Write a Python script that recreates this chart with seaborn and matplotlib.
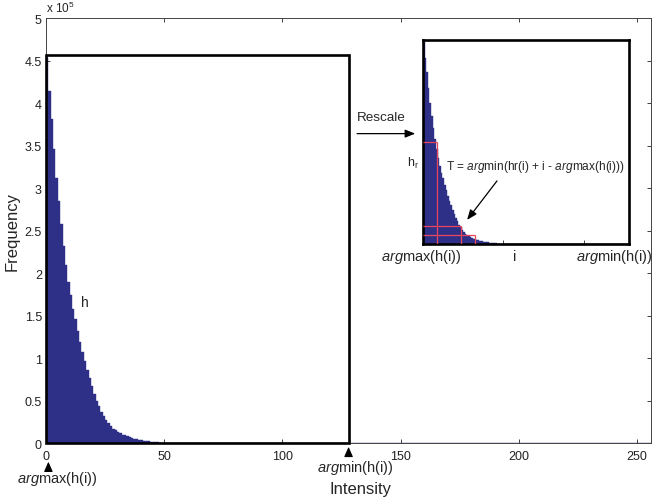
import numpy as np
import pandas as pd
import matplotlib
matplotlib.use("Agg")
import matplotlib.pyplot as plt
from matplotlib.patches import Rectangle
from matplotlib.ticker import FormatStrFormatter
import seaborn as sns

# =========================
# Data
# =========================
# frequency per intensity bin 0..47 (counts)
freq_head = [453000, 414000, 381000, 346000, 312000, 285000, 258000, 232000,
             210000, 190000, 174000, 158000, 146000, 132000, 119000, 107000,
             96000, 86000, 76000, 67000, 58000, 50000, 43000, 37000,
             32000, 27000, 23000, 20000, 17000, 15000, 13000, 11500,
             10000, 9000, 8000, 7000, 6000, 5300, 4600, 4000,
             3400, 2800, 2300, 1900, 1500, 1200, 900, 700]
# flat tail, bins 48..255
freq_tail = [600] * 16 + [500] * 64 + [450] * 128
freq = np.array(freq_head + freq_tail)
intensity = np.arange(len(freq))

argmax_i = 0
argmin_i = 128
box_top = 456500

# red threshold guides in the rescaled inset (x = intensity, y = count)
red_x = [8.7, 23.4, 32.3]
red_y = [227000, 41000, 20000]

SCALE = 1e5
BAR = "#2e3088"

df = pd.DataFrame({"intensity": intensity, "freq": freq / SCALE})
bin_edges = list(range(0, 257))

# =========================
# Style
# =========================
sns.set_theme(style="ticks")
plt.rcParams["font.family"] = ["Liberation Sans", "DejaVu Sans"]
plt.rcParams["mathtext.fontset"] = "custom"
plt.rcParams["mathtext.rm"] = "Liberation Sans"
plt.rcParams["mathtext.it"] = "Liberation Sans:italic"

fig = plt.figure(figsize=(6.52, 5.02), dpi=100)

# =========================
# Main histogram
# =========================
ax = fig.add_axes([0.0706, 0.1155, 0.928, 0.8466])
sns.histplot(data=df, x="intensity", weights="freq", bins=bin_edges,
             color=BAR, alpha=1, edgecolor=BAR, linewidth=0.3, ax=ax)
ax.set_xlim(0, 256)
ax.set_ylim(0, 5)
ax.set_xticks([0, 50, 100, 150, 200, 250])
ax.set_yticks(np.arange(0, 5.01, 0.5))
ax.yaxis.set_major_formatter(FormatStrFormatter("%g"))
ax.tick_params(direction="in", length=3, width=0.6, top=True, right=True,
               labelsize=9, colors="#222222", pad=5)
ax.tick_params(axis="y", pad=3)
for s in ax.spines.values():
    s.set_color("#444444")
    s.set_linewidth(0.7)

ax.set_xlabel("Intensity", fontsize=12)
ax.set_ylabel("Frequency", fontsize=12)
ax.xaxis.set_label_coords(0.519, -0.09)
ax.yaxis.set_label_coords(-0.043, 0.5)
ax.text(0, 1.008, r"x 10$^\mathregular{5}$", transform=ax.transAxes,
        fontsize=8.5, va="bottom", ha="left")

ax.add_patch(Rectangle((argmax_i, 0), argmin_i - argmax_i, box_top / SCALE,
                       fill=False, ec="black", lw=1.9, clip_on=False, zorder=5))
ax.text(16.5, 1.66, "h", fontsize=10, ha="center", va="center")

# arrows under the x axis
tr = ax.get_xaxis_transform()
head = dict(arrowstyle="-|>,head_length=0.5,head_width=0.22", color="black",
            lw=0.8, shrinkA=0, shrinkB=0)
ax.annotate("", xy=(1, -0.044), xytext=(1, -0.064), xycoords=tr,
            textcoords=tr, arrowprops=head, annotation_clip=False)
ax.annotate("", xy=(argmin_i, -0.009), xytext=(argmin_i, -0.03), xycoords=tr,
            textcoords=tr, arrowprops=head, annotation_clip=False)
ax.text(4.9, -0.083, r"$\mathit{arg}$max(h(i))", transform=tr, fontsize=10.5,
        ha="center", va="center")
ax.text(130.9, -0.0565, r"$\mathit{arg}$min(h(i))", transform=tr,
        fontsize=10.5, ha="center", va="center")

# Rescale arrow
ax.text(131.6, 3.84, "Rescale", fontsize=9.7, ha="left", va="center")
ax.annotate("", xy=(156.2, 3.64), xytext=(131.6, 3.64),
            arrowprops=dict(arrowstyle="-|>,head_length=0.5,head_width=0.2",
                            color="black", lw=0.9, shrinkA=0, shrinkB=0))

# =========================
# Inset (rescaled histogram)
# =========================
ins = fig.add_axes([0.6488, 0.512, 0.316, 0.4064])
sns.histplot(data=df, x="intensity", weights="freq", bins=bin_edges,
             color=BAR, alpha=1, edgecolor=BAR, linewidth=0.3, ax=ins)
ins.set_xlim(argmax_i, argmin_i)
ins.set_ylim(0, freq.max() / SCALE)
ins.set_xticks([50, 100])
ins.set_yticks([])
ins.tick_params(direction="in", length=3, width=0.6, labelbottom=False)
ins.set_xlabel("")
ins.set_ylabel("")
for s in ins.spines.values():
    s.set_visible(True)
    s.set_color("black")
    s.set_linewidth(1.9)

for x, y in zip(red_x, red_y):
    ins.vlines(x, 0, y / SCALE, color="#e8445a", lw=0.9, zorder=4)
    ins.hlines(y / SCALE, 0, x, color="#e8445a", lw=0.9, zorder=4)

ins.text(-0.02, 0.40, r"h$_\mathregular{r}$", transform=ins.transAxes,
         fontsize=9, ha="right", va="center")
ins.text(0.112, 0.382,
         r"T = $\mathit{arg}$min(hr(i) + i - $\mathit{arg}$max(h(i)))",
         transform=ins.transAxes, fontsize=8.6, ha="left", va="center")
ins.annotate("", xy=(0.214, 0.118), xytext=(0.359, 0.309),
             xycoords=ins.transAxes, textcoords=ins.transAxes,
             arrowprops=dict(arrowstyle="-|>,head_length=0.5,head_width=0.2",
                             color="black", lw=0.9, shrinkA=0, shrinkB=0))
ins.text(-0.006, -0.059, r"$\mathit{arg}$max(h(i))", transform=ins.transAxes,
         fontsize=10.5, ha="center", va="center", clip_on=False)
ins.text(0.447, -0.059, "i", transform=ins.transAxes, fontsize=10.5,
         ha="center", va="center")
ins.text(0.927, -0.059, r"$\mathit{arg}$min(h(i))", transform=ins.transAxes,
         fontsize=10.5, ha="center", va="center", clip_on=False)

fig.savefig("out.png", dpi=100)
